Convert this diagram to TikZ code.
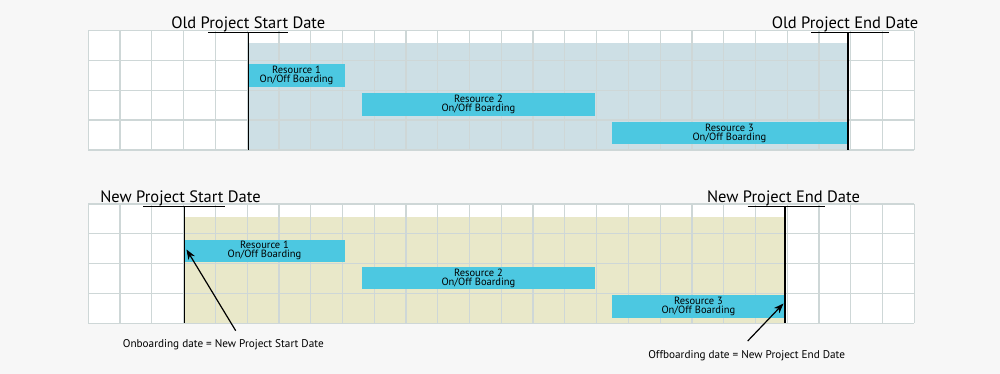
\documentclass[tikz,border=0pt]{standalone}
\usepackage{fontspec}
\setmainfont{PT Sans}
\usetikzlibrary{arrows.meta}
\definecolor{bgc}{RGB}{247,247,247}
\definecolor{gridc}{RGB}{206,215,215}
\definecolor{shadeA}{RGB}{205,223,229}
\definecolor{shadeB}{RGB}{233,232,201}
\definecolor{barc}{RGB}{76,200,225}
\tikzset{
  bar/.style={fill=barc, draw=none, inner sep=0pt, anchor=north west, align=center,
    font=\fontsize{10.5}{9}\selectfont, minimum height=22.5},
  ttl/.style={font=\fontsize{16.5}{18}\selectfont, inner sep=0pt, anchor=base},
  lbl/.style={font=\fontsize{11.2}{12}\selectfont, inner sep=1pt, anchor=base},
  mark line/.style={line width=1.4pt, black},
  gline/.style={draw=gridc, line width=1.2pt},
  arr/.style={line width=1.2pt, -{Stealth[length=10pt,width=7.5pt]}}
}
\begin{document}
\begin{tikzpicture}[x=1pt,y=-1pt]
\fill[bgc] (0,0) rectangle (1000,374);
\useasboundingbox (0,0) rectangle (1000,374);
% ---------- top chart ----------
\fill[white] (88.3,30.7) rectangle (914.3,150);
\fill[shadeA] (248.3,43.3) rectangle (848,150);
\foreach \i in {0,...,26} \draw[gline] ({88.3+\i*31.77},30.7) -- ({88.3+\i*31.77},150);
\foreach \r in {30.7,60.5,90.3,120.1,150} \draw[gline] (88.3,\r) -- (914.3,\r);
\node[bar, minimum width=96] (a1) at (248.3,64) {Resource 1\\On/Off Boarding};
\node[bar, minimum width=233] (a2) at (361.7,93.2) {Resource 2\\On/Off Boarding};
\node[bar, minimum width=235] (a3) at (611.7,121.8) {Resource 3\\On/Off Boarding};
\node[ttl] (os) at (248.3,28.3) {Old Project Start Date};
\node[ttl] (oe) at (845,28.3) {Old Project End Date};
\coordinate (osl) at (208.3,32.7); \coordinate (osr) at (288.3,32.7);
\coordinate (oel) at (811,32.7); \coordinate (oer) at (888.5,32.7);
\draw[mark line] (osl) -- (osr);
\draw[mark line] (oel) -- (oer);
\draw[mark line] (248.3,32.7) -- (248.3,150);
\draw[mark line] (848,32.7) -- (848,150);
% ---------- bottom chart ----------
\fill[white] (88.3,204) rectangle (914.3,323.3);
\fill[shadeB] (184.3,217.3) rectangle (785,323.3);
\foreach \i in {0,...,26} \draw[gline] ({88.3+\i*31.77},204) -- ({88.3+\i*31.77},323.3);
\foreach \r in {204,233.8,263.6,293.4,323.3} \draw[gline] (88.3,\r) -- (914.3,\r);
\node[bar, minimum width=160] (b1) at (184.3,239.3) {Resource 1\\On/Off Boarding};
\node[bar, minimum width=233] (b2) at (361.7,266.6) {Resource 2\\On/Off Boarding};
\node[bar, minimum width=173] (b3) at (611.7,295.2) {Resource 3\\On/Off Boarding};
\node[ttl] (ns) at (180.5,202.7) {New Project Start Date};
\node[ttl] (ne) at (783.5,202.7) {New Project End Date};
\coordinate (nsl) at (143,206.5); \coordinate (nsr) at (225,206.5);
\coordinate (nel) at (747.7,206.5); \coordinate (ner) at (825,206.5);
\draw[mark line] (nsl) -- (nsr);
\draw[mark line] (nel) -- (ner);
\coordinate (nstop) at (184.3,206.5); \coordinate (nsbot) at (184.3,323.3);
\coordinate (netop) at (785,206.5); \coordinate (nebot) at (785,323.3);
\draw[mark line] (nstop) -- (nsbot);
\draw[mark line] (netop) -- (nebot);
% ---------- annotations ----------
\node[lbl] (on) at (223.3,347.5) {Onboarding date = New Project Start Date};
\node[lbl] (off) at (746.7,358) {Offboarding date = New Project End Date};
\coordinate (onTip) at (186.5,249.5);
\coordinate (offTip) at (783.5,303.5);
\draw[arr] (235.7,330.7) -- (onTip);
\draw[arr] (747.7,341) -- (offTip);
\end{tikzpicture}
\end{document}
